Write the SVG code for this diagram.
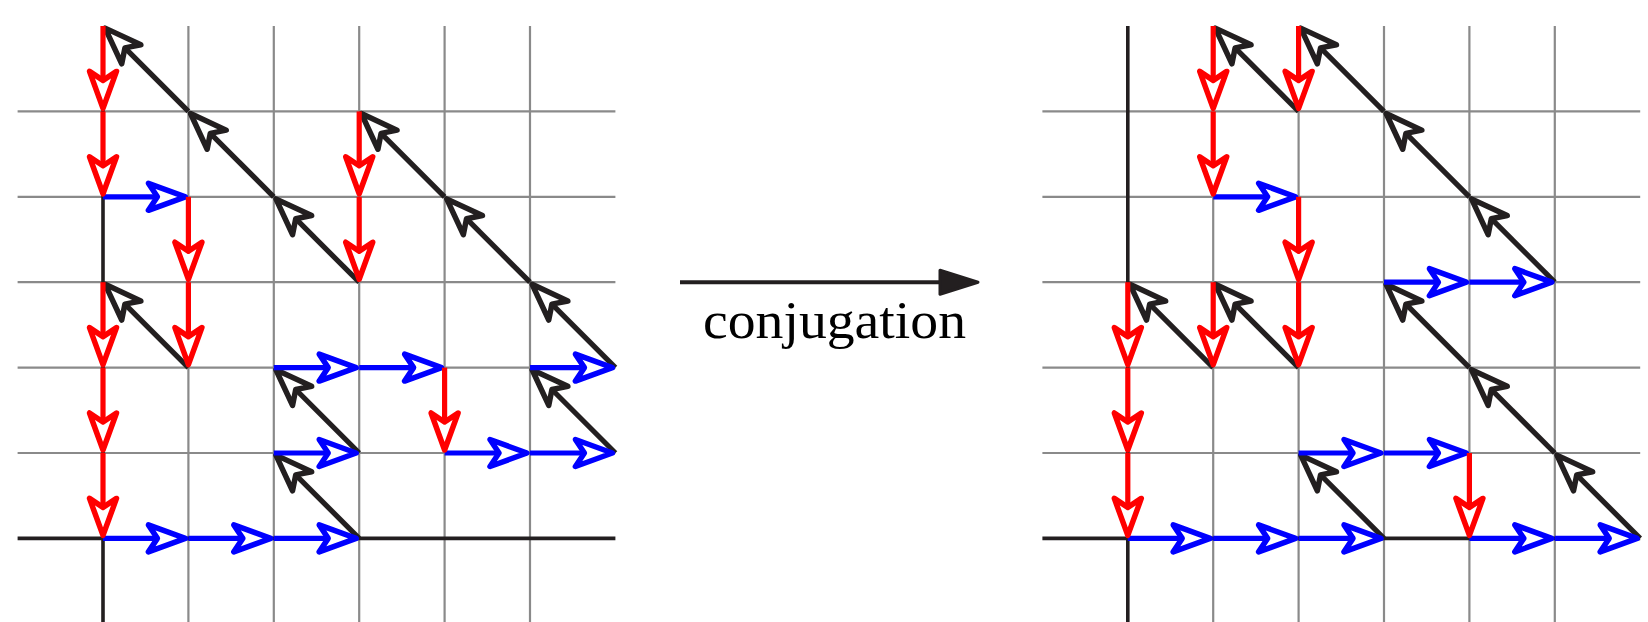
<svg xmlns="http://www.w3.org/2000/svg" width="1648" height="622" viewBox="0 0 1648 622">
  <style>
    .grid { stroke: #8a8a8a; stroke-width: 2.2; fill: none; }
    .axis { stroke: #231f20; stroke-width: 3.6; fill: none; }
    .red { stroke: #ff0000; stroke-width: 5.2; fill: none; marker-end: url(#hr); }
    .blue { stroke: #0000ff; stroke-width: 5.2; fill: none; marker-end: url(#hb); }
    .blk { stroke: #231f20; stroke-width: 5.2; fill: none; marker-end: url(#hk); }
    .lbl { font-family: "Liberation Serif", "DejaVu Serif", serif; font-size: 52px; fill: #000; }
  </style>
  <defs>
    <path id="head" d="M5 0 L-32 -13.5 L-23 0 L-32 13.5 Z"/>
    <marker id="hr" markerUnits="userSpaceOnUse" orient="auto" overflow="visible" markerWidth="60" markerHeight="60" refX="0" refY="0">
      <use href="#head" fill="#ffffff" stroke="#ff0000" stroke-width="5.5" stroke-linejoin="round"/>
    </marker>
    <marker id="hb" markerUnits="userSpaceOnUse" orient="auto" overflow="visible" markerWidth="60" markerHeight="60" refX="0" refY="0">
      <use href="#head" fill="#ffffff" stroke="#0000ff" stroke-width="5.5" stroke-linejoin="round"/>
    </marker>
    <marker id="hk" markerUnits="userSpaceOnUse" orient="auto" overflow="visible" markerWidth="60" markerHeight="60" refX="0" refY="0">
      <use href="#head" fill="#ffffff" stroke="#231f20" stroke-width="5.5" stroke-linejoin="round"/>
    </marker>
  </defs>
  <rect x="0" y="0" width="1648" height="622" fill="#ffffff"/>

  <!-- Left diagram -->
  <g id="left-diagram" transform="translate(103,538.4)">
    <g id="left-grid" class="grid">
      <path d="M85.4 -512.4 V85.4 M170.8 -512.4 V85.4 M256.2 -512.4 V85.4 M341.6 -512.4 V85.4 M427 -512.4 V85.4"/>
      <path d="M-85.4 -85.4 H512.4 M-85.4 -170.8 H512.4 M-85.4 -256.2 H512.4 M-85.4 -341.6 H512.4 M-85.4 -427 H512.4"/>
    </g>
    <g id="left-axes" class="axis">
      <path d="M-85.4 0 H512.4 M0 -512.4 V85.4"/>
    </g>
    <g id="left-connectors">
      <path class="blk" d="M85.4 -427 L5.66 -506.74"/>
      <path class="blk" d="M170.8 -341.6 L91.06 -421.34"/>
      <path class="blk" d="M85.4 -170.8 L5.66 -250.54"/>
      <path class="blk" d="M256.2 -256.2 L176.46 -335.94"/>
      <path class="blk" d="M341.6 -341.6 L261.86 -421.34"/>
      <path class="blk" d="M427 -256.2 L347.26 -335.94"/>
      <path class="blk" d="M512.4 -170.8 L432.66 -250.54"/>
      <path class="blk" d="M256.2 -85.4 L176.46 -165.14"/>
      <path class="blk" d="M512.4 -85.4 L432.66 -165.14"/>
      <path class="blk" d="M256.2 0 L176.46 -79.74"/>

      <path class="blue" d="M0 -341.6 H77.4"/>
      <path class="blue" d="M170.8 -170.8 H248.2"/>
      <path class="blue" d="M256.2 -170.8 H333.6"/>
      <path class="blue" d="M427 -170.8 H504.4"/>
      <path class="blue" d="M170.8 -85.4 H248.2"/>
      <path class="blue" d="M341.6 -85.4 H419"/>
      <path class="blue" d="M427 -85.4 H504.4"/>
      <path class="blue" d="M0 0 H77.4"/>
      <path class="blue" d="M85.4 0 H162.8"/>
      <path class="blue" d="M170.8 0 H248.2"/>

      <path class="red" d="M0 -512.4 V-435"/>
      <path class="red" d="M0 -427 V-349.6"/>
      <path class="red" d="M85.4 -341.6 V-264.2"/>
      <path class="red" d="M85.4 -256.2 V-178.8"/>
      <path class="red" d="M256.2 -427 V-349.6"/>
      <path class="red" d="M256.2 -341.6 V-264.2"/>
      <path class="red" d="M0 -256.2 V-178.8"/>
      <path class="red" d="M0 -170.8 V-93.4"/>
      <path class="red" d="M0 -85.4 V-8"/>
      <path class="red" d="M341.6 -170.8 V-93.4"/>
    </g>
  </g>

  <!-- Conjugation arrow -->
  <g id="conjugation-arrow">
    <path d="M680 282.2 H945" stroke="#231f20" stroke-width="4" fill="none"/>
    <polygon points="940,270.2 978,282.2 940,294.2" fill="#231f20" stroke="#231f20" stroke-width="3" stroke-linejoin="round"/>
    <text class="lbl" x="703" y="338" textLength="263" lengthAdjust="spacingAndGlyphs">conjugation</text>
  </g>

  <!-- Right diagram -->
  <g id="right-diagram" transform="translate(1127.8,538.4)">
    <g id="right-grid" class="grid">
      <path d="M85.4 -512.4 V85.4 M170.8 -512.4 V85.4 M256.2 -512.4 V85.4 M341.6 -512.4 V85.4 M427 -512.4 V85.4"/>
      <path d="M-85.4 -85.4 H512.4 M-85.4 -170.8 H512.4 M-85.4 -256.2 H512.4 M-85.4 -341.6 H512.4 M-85.4 -427 H512.4"/>
    </g>
    <g id="right-axes" class="axis">
      <path d="M-85.4 0 H512.4 M0 -512.4 V85.4"/>
    </g>
    <g id="right-connectors">
      <path class="blk" d="M170.8 -427 L91.06 -506.74"/>
      <path class="blk" d="M256.2 -427 L176.46 -506.74"/>
      <path class="blk" d="M341.6 -341.6 L261.86 -421.34"/>
      <path class="blk" d="M427 -256.2 L347.26 -335.94"/>
      <path class="blk" d="M85.4 -170.8 L5.66 -250.54"/>
      <path class="blk" d="M170.8 -170.8 L91.06 -250.54"/>
      <path class="blk" d="M341.6 -170.8 L261.86 -250.54"/>
      <path class="blk" d="M427 -85.4 L347.26 -165.14"/>
      <path class="blk" d="M512.4 0 L432.66 -79.74"/>
      <path class="blk" d="M256.2 0 L176.46 -79.74"/>

      <path class="blue" d="M85.4 -341.6 H162.8"/>
      <path class="blue" d="M256.2 -256.2 H333.6"/>
      <path class="blue" d="M341.6 -256.2 H419"/>
      <path class="blue" d="M170.8 -85.4 H248.2"/>
      <path class="blue" d="M256.2 -85.4 H333.6"/>
      <path class="blue" d="M0 0 H77.4"/>
      <path class="blue" d="M85.4 0 H162.8"/>
      <path class="blue" d="M170.8 0 H248.2"/>
      <path class="blue" d="M341.6 0 H419"/>
      <path class="blue" d="M427 0 H504.4"/>

      <path class="red" d="M85.4 -512.4 V-435"/>
      <path class="red" d="M85.4 -427 V-349.6"/>
      <path class="red" d="M170.8 -512.4 V-435"/>
      <path class="red" d="M170.8 -341.6 V-264.2"/>
      <path class="red" d="M170.8 -256.2 V-178.8"/>
      <path class="red" d="M0 -256.2 V-178.8"/>
      <path class="red" d="M0 -170.8 V-93.4"/>
      <path class="red" d="M0 -85.4 V-8"/>
      <path class="red" d="M85.4 -256.2 V-178.8"/>
      <path class="red" d="M341.6 -85.4 V-8"/>
    </g>
  </g>
</svg>
